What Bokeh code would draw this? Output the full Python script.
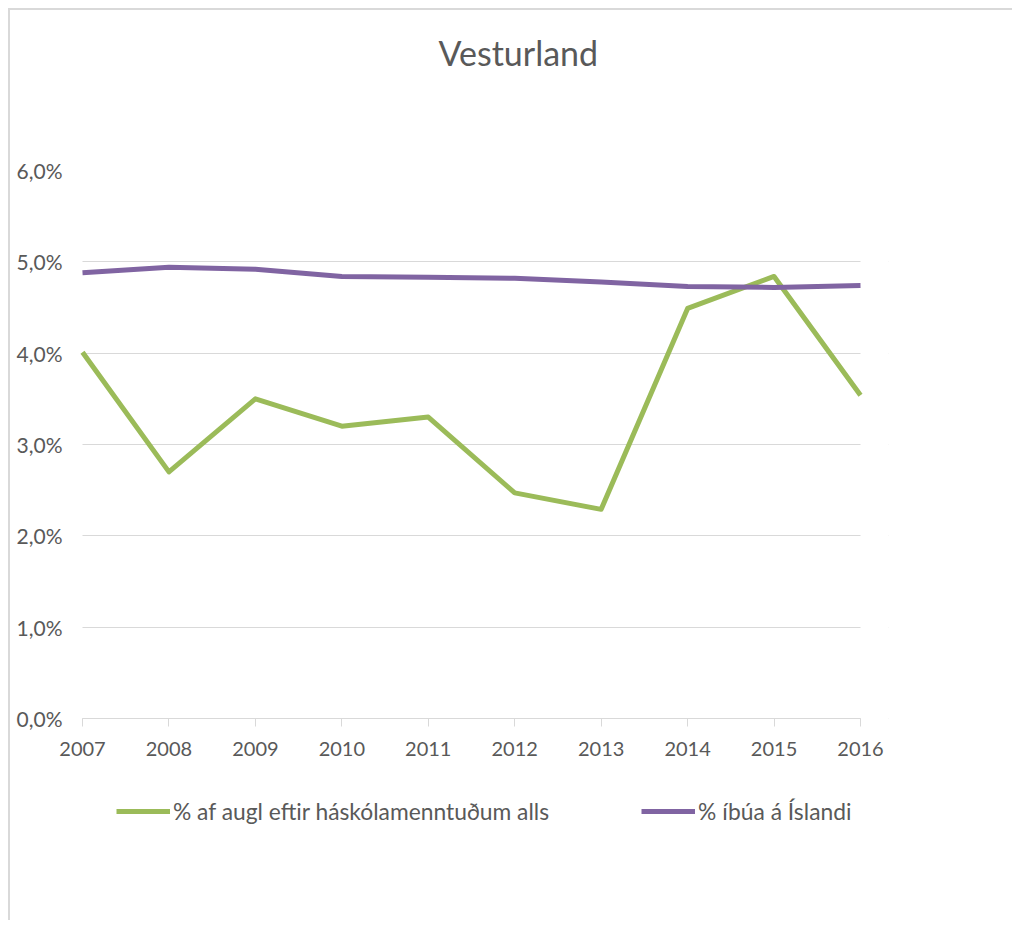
from bokeh.plotting import figure
from bokeh.models import Legend, LegendItem, FixedTicker, Range1d, Title, BoxAnnotation
from bokeh.embed import file_html
from bokeh.resources import INLINE

years = [2007, 2008, 2009, 2010, 2011, 2012, 2013, 2014, 2015, 2016]
augl_pct = [4.01, 2.70, 3.50, 3.20, 3.30, 2.47, 2.29, 4.49, 4.84, 3.54]
ibua_pct = [4.88, 4.94, 4.92, 4.84, 4.83, 4.82, 4.78, 4.73, 4.72, 4.74]
y_ticks = [0, 1, 2, 3, 4, 5, 6]
y_tick_labels = ["0,0%", "1,0%", "2,0%", "3,0%", "4,0%", "5,0%", "6,0%"]
series_names = ["% af augl eftir háskólamenntuðum alls", "% íbúa á Íslandi"]
title_text = "Vesturland"

FONT = "Lato"
GREY = "#595959"

# layout (pixels): the 2007..2016 / 0..6 % band is 778 x 548 px; the frame is a bit
# larger so that the year labels and the legend are not clipped
BAND_W, BAND_H = 778, 548
PAD_L, PAD_R, PAD_B = 24, 28, 152
px_x = BAND_W / (years[-1] - years[0])
px_y = BAND_H / (y_ticks[-1] - y_ticks[0])
x_range = Range1d(years[0] - PAD_L / px_x, years[-1] + PAD_R / px_x)
y_range = Range1d(y_ticks[0] - PAD_B / px_y, y_ticks[-1])

p = figure(frame_width=BAND_W + PAD_L + PAD_R, frame_height=BAND_H + PAD_B,
           output_backend="svg", toolbar_location=None,
           x_range=x_range, y_range=y_range,
           min_border_left=48, min_border_right=124, min_border_top=0, min_border_bottom=50)
p.styles = {"border-top": "2px solid #d9d9d9", "border-left": "2px solid #d9d9d9",
            "margin-top": "8px", "margin-left": "8px"}

# spacer nearest the frame, then the real title above it
p.add_layout(Title(text=" ", text_font_size="10px", standoff=66), "above")
p.add_layout(Title(text=title_text, align="left", offset=356 + PAD_L, standoff=38,
                   text_font=FONT, text_font_size="34px", text_font_style="normal",
                   text_color=GREY), "above")

p.outline_line_color = None
p.background_fill_color = "white"
p.border_fill_color = "white"

p.xgrid.grid_line_color = None
p.ygrid.grid_line_color = "#d9d9d9"
p.ygrid.grid_line_width = 1
p.ygrid.ticker = FixedTicker(ticks=y_ticks)

# hide the grid lines outside the year span
p.add_layout(BoxAnnotation(right=years[0], fill_color="white", fill_alpha=1,
                           line_color=None, level="underlay"))
p.add_layout(BoxAnnotation(left=years[-1], fill_color="white", fill_alpha=1,
                           line_color=None, level="underlay"))

p.yaxis.ticker = FixedTicker(ticks=y_ticks)
p.yaxis.major_label_overrides = {t: l for t, l in zip(y_ticks, y_tick_labels)}
p.yaxis.axis_line_color = None
p.yaxis.major_tick_line_color = None
p.yaxis.major_tick_out = 0
p.yaxis.major_tick_in = 0
p.yaxis.minor_tick_line_color = None
p.yaxis.major_label_standoff = -4
p.yaxis.major_label_text_font = FONT
p.yaxis.major_label_text_font_size = "21px"
p.yaxis.major_label_text_color = GREY

p.xaxis.fixed_location = 0
p.xaxis.bounds = (years[0], years[-1])
p.xaxis.ticker = FixedTicker(ticks=years)
p.xaxis.axis_line_color = "#d9d9d9"
p.xaxis.axis_line_width = 1
p.xaxis.major_tick_line_color = "#d9d9d9"
p.xaxis.major_tick_in = 0
p.xaxis.major_tick_out = 8
p.xaxis.minor_tick_line_color = None
p.xaxis.major_label_standoff = 15
p.xaxis.major_label_text_font = FONT
p.xaxis.major_label_text_font_size = "20px"
p.xaxis.major_label_text_color = GREY

r1 = p.line(years, augl_pct, line_color="#9BBB59", line_width=5, line_join="round")
r2 = p.line(years, ibua_pct, line_color="#8064A2", line_width=5, line_join="round")

legend = Legend(items=[LegendItem(label=series_names[0], renderers=[r1]),
                       LegendItem(label=series_names[1], renderers=[r2])],
                orientation="horizontal", location=(58, 45),
                glyph_width=54, label_standoff=3, spacing=92,
                label_text_font=FONT, label_text_font_size="22.8px", label_text_color=GREY,
                border_line_color=None, background_fill_alpha=0, margin=0, padding=5)
p.add_layout(legend, "center")

open("out.html", "w").write(file_html(p, INLINE))
